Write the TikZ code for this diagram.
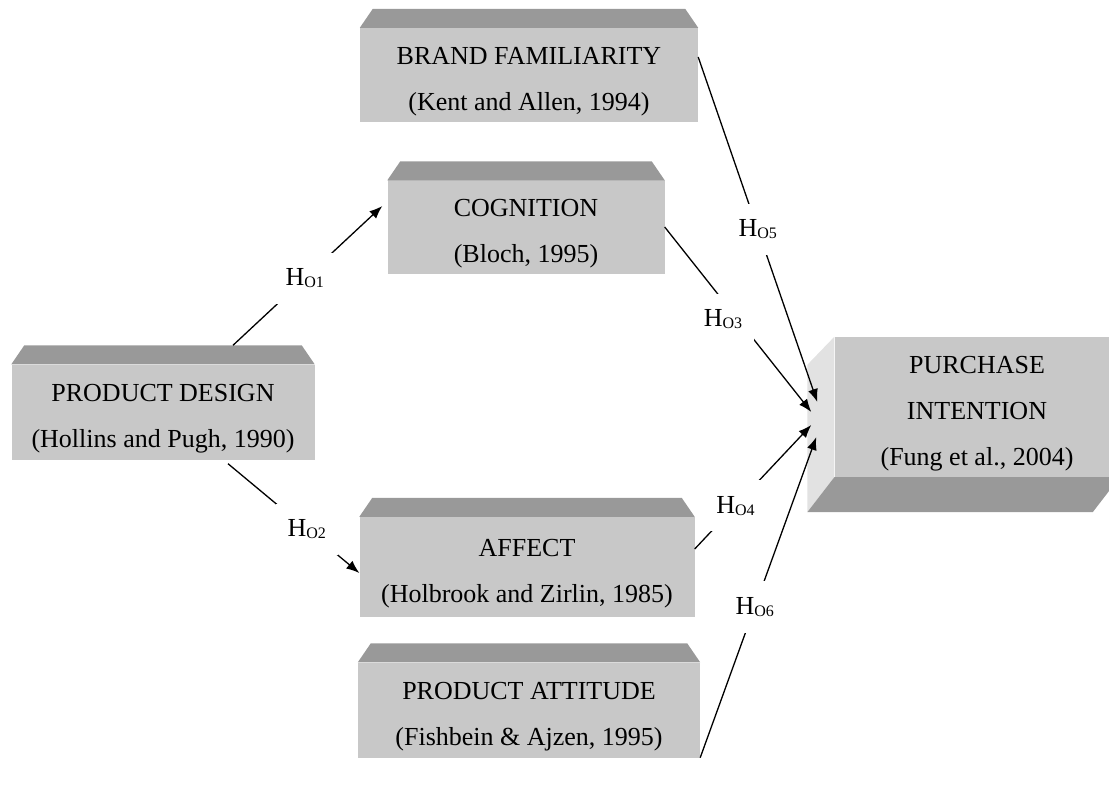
\documentclass[tikz,border=0pt]{standalone}
\usepackage{xcolor}
\usepackage{fontspec}
\setmainfont{Liberation Serif}
\usetikzlibrary{arrows.meta}
\definecolor{facegray}{RGB}{200,200,200}
\definecolor{bevelgray}{RGB}{153,153,153}
\definecolor{sidegray}{RGB}{226,226,226}
\tikzset{
  font={\fontsize{26}{46}\selectfont}}
\newcommand{\hyp}[1]{H\raisebox{-2pt}{\fontsize{16}{16}\selectfont O#1}}
\newcommand{\lift}{\rule{0pt}{30pt}}
\newcommand{\topbevel}[1]{\fill[bevelgray] (#1.north west) -- ([xshift=13pt,yshift=19pt]#1.north west)
  -- ([xshift=-13pt,yshift=19pt]#1.north east) -- (#1.north east) -- cycle;}

\begin{document}
\begin{tikzpicture}[x=1pt, y=-1pt]

        \tikzset{facebox/.style = {rectangle, fill=facegray, inner sep=0pt, align=center},
                 edge/.style = {-{Latex[length=13pt,width=10pt]}, line width=1.3pt},
                 hyp/.style = {fill=white, inner xsep=12pt, inner ysep=16pt}}
        \useasboundingbox (0,0) rectangle (1109,789);
        \clip (0,0) rectangle (1109,789);

        % boxes
        \node[facebox, minimum width=338pt, minimum height=94pt] (bf)
            at (529,75) {\lift BRAND FAMILIARITY\\(Kent and Allen, 1994)};
        \node[facebox, minimum width=277pt, minimum height=93pt] (cog)
            at (526,227) {\lift COGNITION\\(Bloch, 1995)};
        \node[facebox, minimum width=303pt, minimum height=95pt] (pd)
            at (163,412) {\lift PRODUCT DESIGN\\(Hollins and Pugh, 1990)};
        \node[facebox, minimum width=335pt, minimum height=100pt] (aff)
            at (527,567) {\lift AFFECT\\(Holbrook and Zirlin, 1985)};
        \node[facebox, minimum width=342pt, minimum height=95pt] (att)
            at (529,710) {\lift PRODUCT ATTITUDE\\(Fishbein \& Ajzen, 1995)};
        \node[facebox, minimum width=285pt, minimum height=140pt] (pi)
            at (977,407) {\lift PURCHASE\\INTENTION\\(Fung et al., 2004)};

        % bevels
        \topbevel{bf}
        \topbevel{cog}
        \topbevel{pd}
        \topbevel{aff}
        \topbevel{att}
        \fill[sidegray] (pi.north west) -- ([xshift=-27pt,yshift=-28pt]pi.north west)
            -- ([xshift=-27pt,yshift=-35pt]pi.south west) -- (pi.south west) -- cycle;
        \fill[bevelgray] (pi.south west) -- (pi.south east)
            -- ([xshift=-27pt,yshift=-35pt]pi.south east) -- ([xshift=-27pt,yshift=-35pt]pi.south west) -- cycle;

        % edges
        \draw[edge] ([xshift=70pt,yshift=19pt]pd.north) to node[hyp, pos=0.48] {\hyp{1}} ([xshift=-5pt,yshift=21pt]cog.west);
        \draw[edge] ([xshift=65pt,yshift=-4pt]pd.south) to node[hyp, pos=0.6] {\hyp{2}} ([yshift=-6pt]aff.west);
        \draw[edge] (cog.east) to node[hyp, pos=0.5, xshift=-15pt] {\hyp{3}} ([xshift=-23pt,yshift=-5pt]pi.west);
        \draw[edge] ([yshift=18pt]aff.east) to node[hyp, pos=0.35] {\hyp{4}} ([xshift=-23pt,yshift=-18pt]pi.west);
        \draw[edge] ([yshift=18pt]bf.east) to node[hyp, pos=0.5] {\hyp{5}} ([xshift=-17pt,yshift=5pt]pi.west);
        \draw[edge] (att.south east) to node[hyp, pos=0.47] {\hyp{6}} ([xshift=-18pt,yshift=-30pt]pi.west);

\end{tikzpicture}
\end{document}
